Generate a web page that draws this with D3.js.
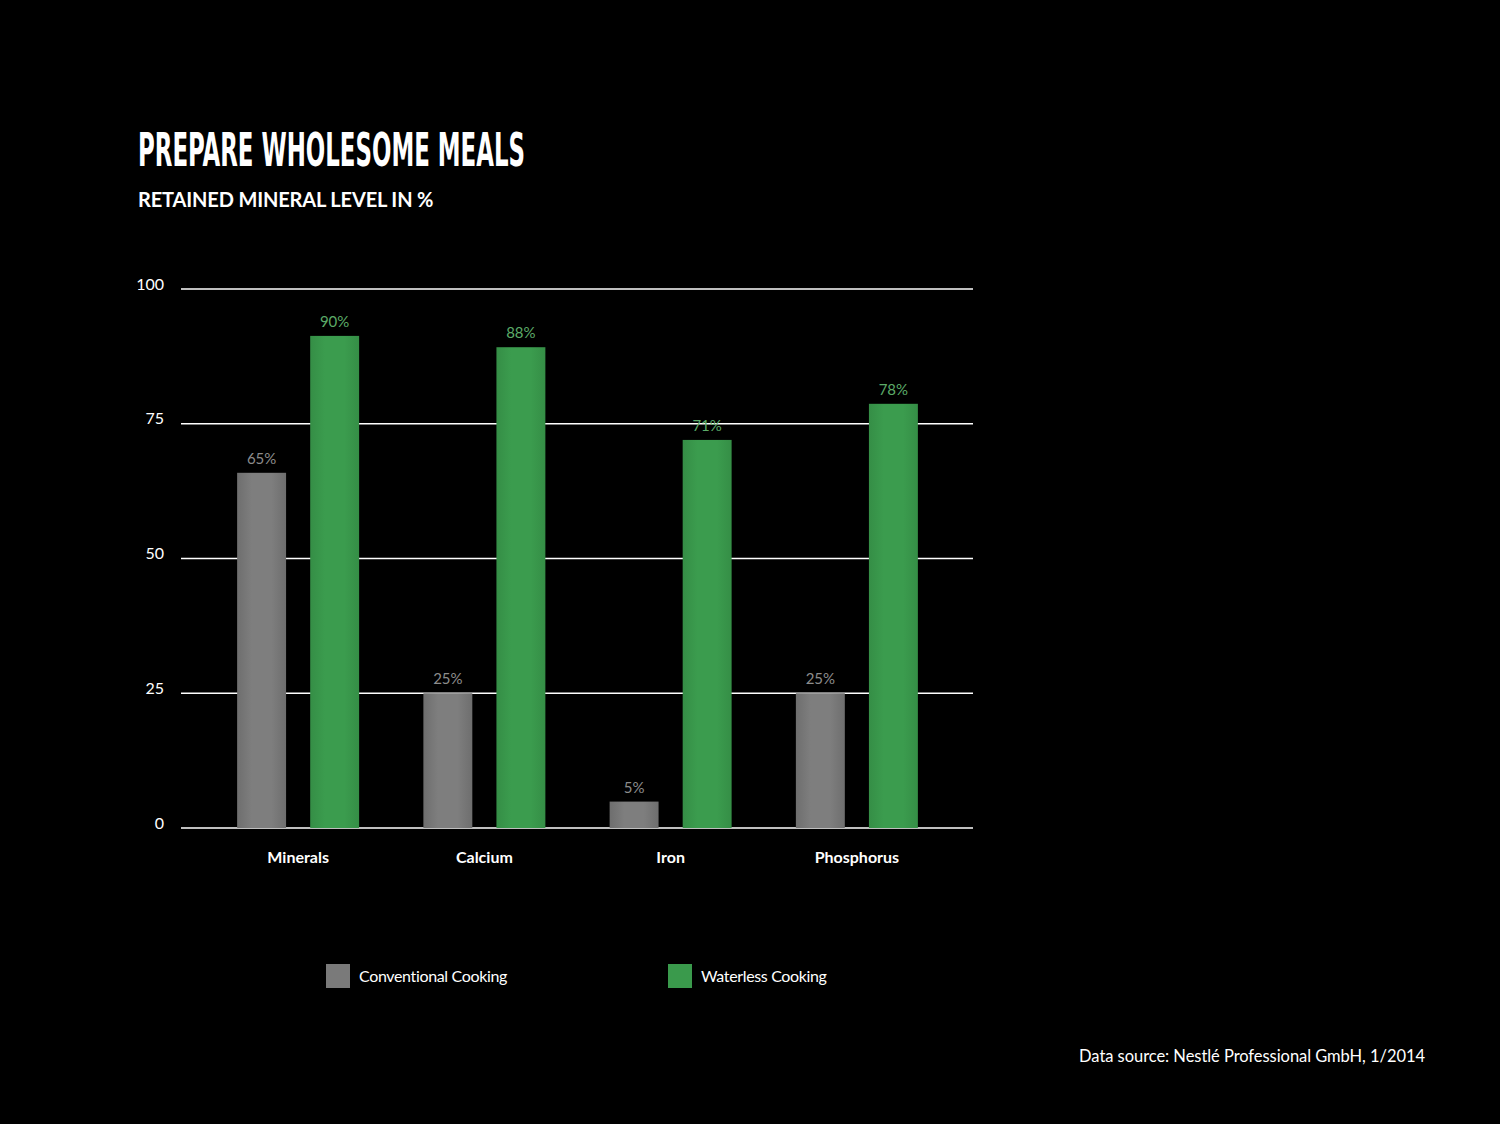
<!DOCTYPE html>
<html><head><meta charset="utf-8">
<script src="https://cdn.jsdelivr.net/npm/d3@7"></script>
<style>html,body{margin:0;padding:0;background:#000;}svg{display:block;}</style>
</head><body>
<script>
const categories = ["Minerals", "Calcium", "Iron", "Phosphorus"];
const seriesNames = ["Conventional Cooking", "Waterless Cooking"];
// bar heights
const conventional = [65.9, 25, 4.9, 25];
const waterless = [91.3, 89.2, 72, 78.7];
// value labels as printed on the chart
const conventionalLabels = ["65%", "25%", "5%", "25%"];
const waterlessLabels = ["90%", "88%", "71%", "78%"];
const yTicks = [0, 25, 50, 75, 100];

const W = 1500, H = 1124;
const svg = d3.select("body").append("svg").attr("width", W).attr("height", H).style("background", "#000");

const defs = svg.append("defs");
function grad(id, mid, edge) {
  const g = defs.append("linearGradient").attr("id", id).attr("x1", "0").attr("x2", "1").attr("y1", "0").attr("y2", "0");
  g.append("stop").attr("offset", "0%").attr("stop-color", edge);
  g.append("stop").attr("offset", "30%").attr("stop-color", mid);
  g.append("stop").attr("offset", "70%").attr("stop-color", mid);
  g.append("stop").attr("offset", "100%").attr("stop-color", edge);
}
grad("gGray", "#7e7e7e", "#6e6e6e");
grad("gGreen", "#3b9c4e", "#358e46");
const colors = ["url(#gGray)", "url(#gGreen)"];
const swatch = ["#7a7a7a", "#3a9a4c"];
const labelColors = ["#8c8c8c", "#5cab68"];

const y = d3.scaleLinear().domain([0, 100]).range([828, 289]);
const x0 = d3.scaleBand().domain(categories).range([205, 950]).paddingInner(0).paddingOuter(0);
const x1 = d3.scaleBand().domain(seriesNames).range([0, 122]).paddingInner(0.33).paddingOuter(0);
const groupOffset = (x0.bandwidth() - 122) / 2;

// Title
svg.append("text").attr("x", 138).attr("y", 166)
  .attr("font-family", "'Liberation Sans Narrow', 'DejaVu Sans Condensed', Roboto, sans-serif")
  .attr("font-weight", 700).attr("font-size", 46).attr("fill", "#fff")
  .attr("textLength", 387).attr("lengthAdjust", "spacingAndGlyphs")
  .text("PREPARE WHOLESOME MEALS");
svg.append("text").attr("x", 138).attr("y", 207)
  .attr("font-family", "Lato, sans-serif").attr("font-weight", 700).attr("font-size", 20).attr("fill", "#fff")
  .attr("letter-spacing", -0.15)
  .text("RETAINED MINERAL LEVEL IN %");

// Grid lines
const grid = svg.append("g");
grid.selectAll("line").data(yTicks).join("line")
  .attr("x1", 181).attr("x2", 973)
  .attr("y1", d => y(d)).attr("y2", d => y(d))
  .attr("stroke", "#fff").attr("stroke-width", 1.5);

// Y axis labels
const yAxis = d3.axisLeft(y).tickValues(yTicks).tickSize(0).tickPadding(0);
const ya = svg.append("g").attr("transform", "translate(164,-5)").call(yAxis);
ya.select(".domain").remove();
ya.selectAll("text").attr("font-family", "Lato, sans-serif").attr("font-size", 16).attr("fill", "#fff");

// Bars
const data = categories.map((c, i) => ({cat: c, vals: [conventional[i], waterless[i]], labels: [conventionalLabels[i], waterlessLabels[i]]}));
const groups = svg.append("g").selectAll("g").data(data).join("g")
  .attr("transform", d => `translate(${x0(d.cat) + groupOffset},0)`);
const items = d => d.vals.map((v, j) => ({s: seriesNames[j], v, j, label: d.labels[j]}));
groups.selectAll("rect").data(items).join("rect")
  .attr("x", d => x1(d.s)).attr("width", x1.bandwidth())
  .attr("y", d => y(d.v)).attr("height", d => y(0) - y(d.v))
  .attr("fill", d => colors[d.j]);
groups.selectAll("text").data(items).join("text")
  .attr("x", d => x1(d.s) + x1.bandwidth() / 2).attr("y", d => y(d.v) - 9)
  .attr("text-anchor", "middle").attr("font-family", "Lato, sans-serif").attr("font-size", 15)
  .attr("fill", d => labelColors[d.j]).text(d => d.label);

// Category labels
const xAxis = d3.axisBottom(x0).tickSize(0).tickPadding(0);
const xa = svg.append("g").attr("transform", "translate(0,852)").call(xAxis);
xa.select(".domain").remove();
xa.selectAll("text").attr("font-family", "Lato, sans-serif").attr("font-weight", 700).attr("font-size", 16).attr("fill", "#fff");

// Legend
const legendX = [326, 668];
const lg = svg.append("g").selectAll("g").data(seriesNames).join("g")
  .attr("transform", (d, i) => `translate(${legendX[i]},964)`);
lg.append("rect").attr("width", 24).attr("height", 24).attr("fill", (d, i) => swatch[i]);
lg.append("text").attr("x", 33).attr("y", 18).attr("font-family", "Lato, sans-serif").attr("font-size", 16)
  .attr("letter-spacing", -0.35)
  .attr("fill", "#fff").text(d => d);

// Source
svg.append("text").attr("x", 1425).attr("y", 1062).attr("text-anchor", "end")
  .attr("font-family", "Lato, sans-serif").attr("font-size", 16.5).attr("fill", "#fff")
  .attr("letter-spacing", -0.05)
  .text("Data source: Nestlé Professional GmbH, 1/2014");
</script>
</body></html>
